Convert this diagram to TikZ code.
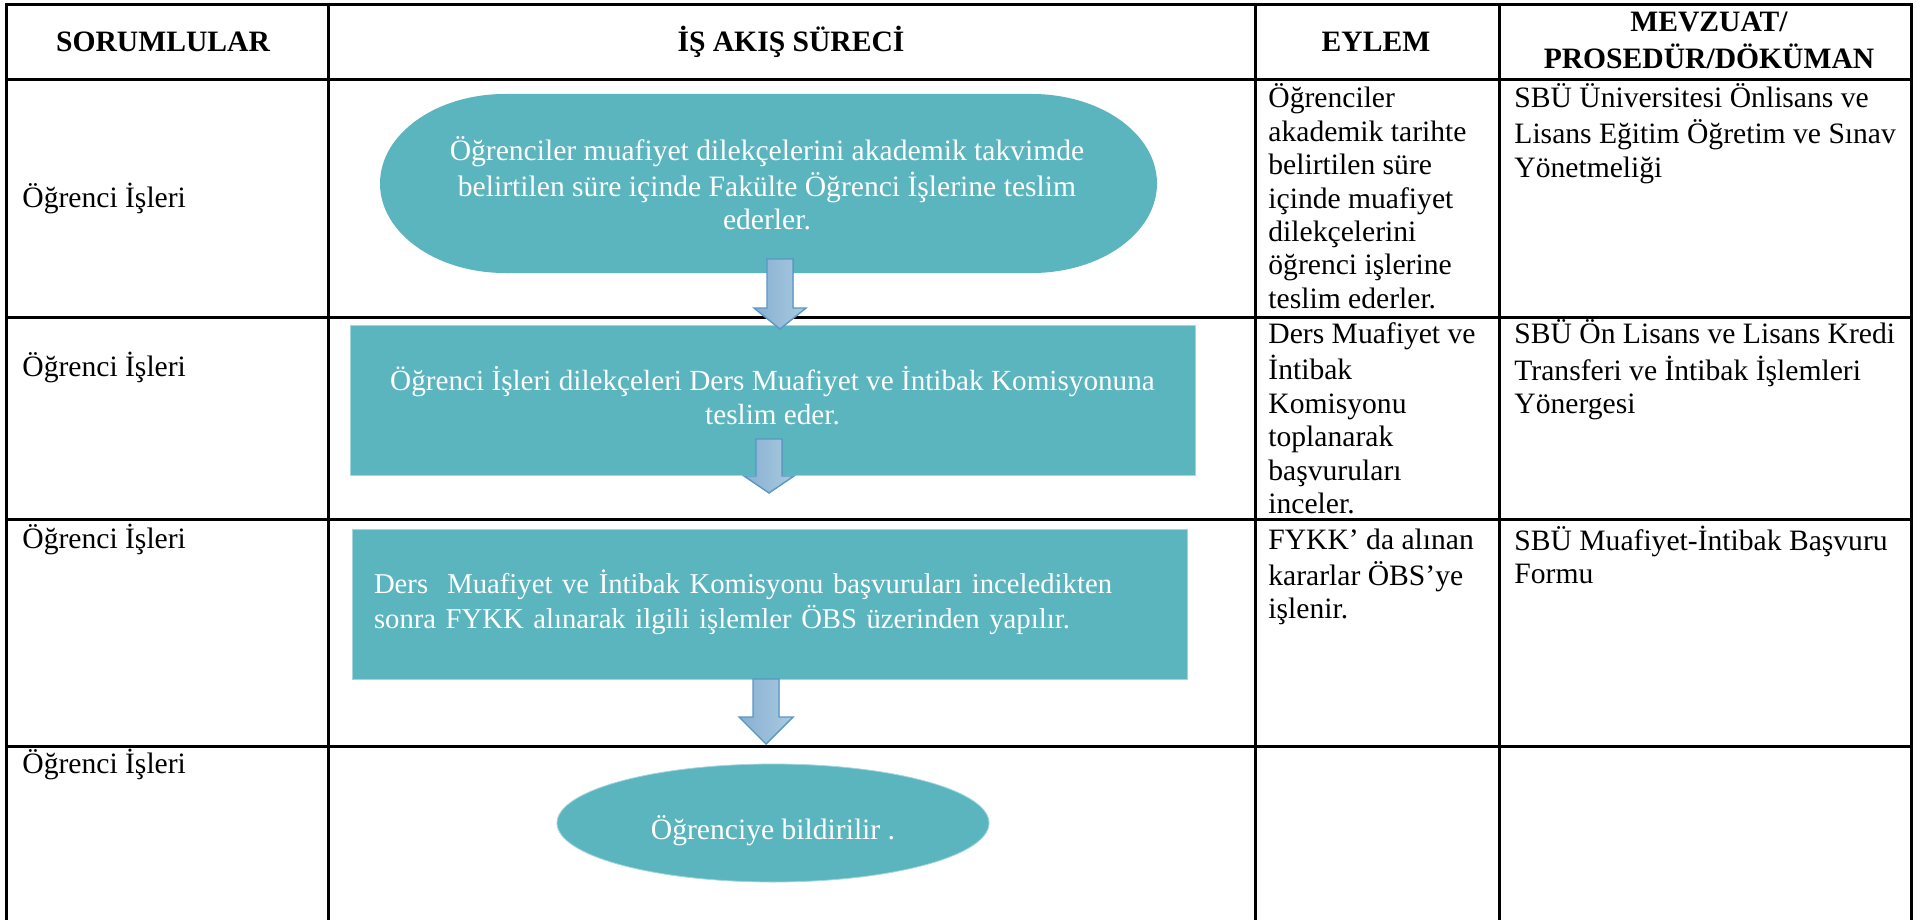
\documentclass[tikz,border=0pt]{standalone}
\usepackage{fontspec}
\setmainfont{Liberation Serif}
\usetikzlibrary{shapes.geometric}
\definecolor{tealfill}{HTML}{5AB5BF}
\definecolor{tealedge}{HTML}{A2D6DB}
\definecolor{arrL}{HTML}{86B0D1}
\definecolor{arrR}{HTML}{AACAE0}
\definecolor{arrE}{HTML}{5A96C6}
\begin{document}
\begin{tikzpicture}[x=0.5pt,y=-0.5pt,
  gridline/.style={line width=1.5pt, black},
  bodyfont/.style={font=\fontsize{14.8}{16.7}\selectfont},
  hdr/.style={font=\fontsize{14.8}{16.7}\selectfont\bfseries, inner sep=0pt},
  celltext/.style={bodyfont, anchor=north west, inner sep=0pt, align=left},
  resp/.style={bodyfont, anchor=base west, inner sep=0pt},
  shapetext/.style={bodyfont, text=white},
  procbox/.style={rectangle, fill=tealfill, draw=tealedge, line width=0.4pt, shapetext},
  endell/.style={ellipse, fill=tealfill, draw=tealedge, line width=0.4pt, shapetext, inner sep=0pt},
  blockarrow/.style={left color=arrL, right color=arrR, draw=arrE, line width=0.7pt, line join=miter}
]
\useasboundingbox (0,0) rectangle (1926,920);
\fill[white] (0,0) rectangle (1926,920);

% ---- table grid ----
\draw[gridline] (6,920) -- (6,5) -- (1911,5) -- (1911,920);
\draw[gridline] (6,80) -- (1911,80);
\draw[gridline] (6,317) -- (1911,317);
\draw[gridline] (6,519) -- (1911,519);
\draw[gridline] (6,746) -- (1911,746);
\draw[gridline] (328,5) -- (328,920);
\draw[gridline] (1255,5) -- (1255,920);
\draw[gridline] (1499,5) -- (1499,920);

% ---- headers ----
\node[hdr, anchor=base] (h1) at (163,52) {SORUMLULAR};
\node[hdr, anchor=base] (h2) at (791,52) {İŞ AKIŞ SÜRECİ};
\node[hdr, anchor=base] (h3) at (1376,52) {EYLEM};
\node[hdr, anchor=north, align=center] (h4) at (1709,7.6) {\strut MEVZUAT/\\PROSEDÜR/DÖKÜMAN};

% ---- responsible column ----
\node[resp] (r1) at (22,207) {Öğrenci İşleri};
\node[resp] (r2) at (22,376) {Öğrenci İşleri};
\node[resp] (r3) at (22,548) {Öğrenci İşleri};
\node[resp] (r4) at (22,773) {Öğrenci İşleri};

% ---- action column ----
\node[celltext] (e1) at (1268,83.6) {\strut Öğrenciler\\akademik tarihte\\belirtilen süre\\içinde muafiyet\\dilekçelerini\\öğrenci işlerine\\teslim ederler.};
\node[celltext] (e2) at (1268,319.6) {\strut Ders Muafiyet ve\\İntibak\\Komisyonu\\toplanarak\\başvuruları\\inceler.};
\node[celltext] (e3) at (1268,525.6) {\strut FYKK’ da alınan\\kararlar ÖBS’ye\\işlenir.};

% ---- regulation column ----
\node[celltext] (m1) at (1514,83.6) {\strut SBÜ Üniversitesi Önlisans ve\\Lisans Eğitim Öğretim ve Sınav\\Yönetmeliği};
\node[celltext] (m2) at (1514,319.6) {\strut SBÜ Ön Lisans ve Lisans Kredi\\Transferi ve İntibak İşlemleri\\Yönergesi};
\node[celltext] (m3) at (1514,525.6) {\strut SBÜ Muafiyet-İntibak Başvuru\\Formu};

% ---- flow shapes ----
\fill[tealfill] (505,94) -- (1032,94)
  arc[start angle=-90, end angle=90, x radius=125, y radius=89.5]
  -- (505,273)
  arc[start angle=90, end angle=270, x radius=125, y radius=89.5] -- cycle;
\node[shapetext, align=center, inner sep=0pt] (s1) at (767,188)
  {\strut Öğrenciler muafiyet dilekçelerini akademik takvimde\\belirtilen süre içinde Fakülte Öğrenci İşlerine teslim\\ederler.\strut};

\node[procbox, minimum width=422.5pt, minimum height=75pt, align=center, inner sep=0pt,
      font=\fontsize{14.6}{16.9}\selectfont] (s2) at (772.5,400.5)
  {\strut Öğrenci İşleri dilekçeleri Ders Muafiyet ve İntibak Komisyonuna\\teslim eder.\strut};

\node[procbox, minimum width=417.5pt, minimum height=75pt, text width=395.5pt, inner xsep=11pt, inner ysep=0pt, align=left,
      font=\fontsize{14.35}{17.2}\selectfont] (s3) at (769.5,604)
  {\strut Ders~ Muafiyet ve İntibak Komisyonu başvuruları inceledikten\\sonra FYKK alınarak ilgili işlemler ÖBS üzerinden yapılır.\strut};

\node[endell, minimum width=216pt, minimum height=59pt, text height=19pt, text depth=3pt] (s4) at (773,823)
  {Öğrenciye bildirilir .};

% ---- block arrows ----
\filldraw[blockarrow] (767,259) -- (793,259) -- (793,308) -- (806,308) -- (780,329) -- (754,308) -- (767,308) -- cycle;
\filldraw[blockarrow] (756,439) -- (782,439) -- (782,476) -- (794,476) -- (769,493) -- (744,476) -- (756,476) -- cycle;
\filldraw[blockarrow] (753,679) -- (779,679) -- (779,717) -- (793,717) -- (766,744) -- (739,717) -- (753,717) -- cycle;
\end{tikzpicture}
\end{document}
